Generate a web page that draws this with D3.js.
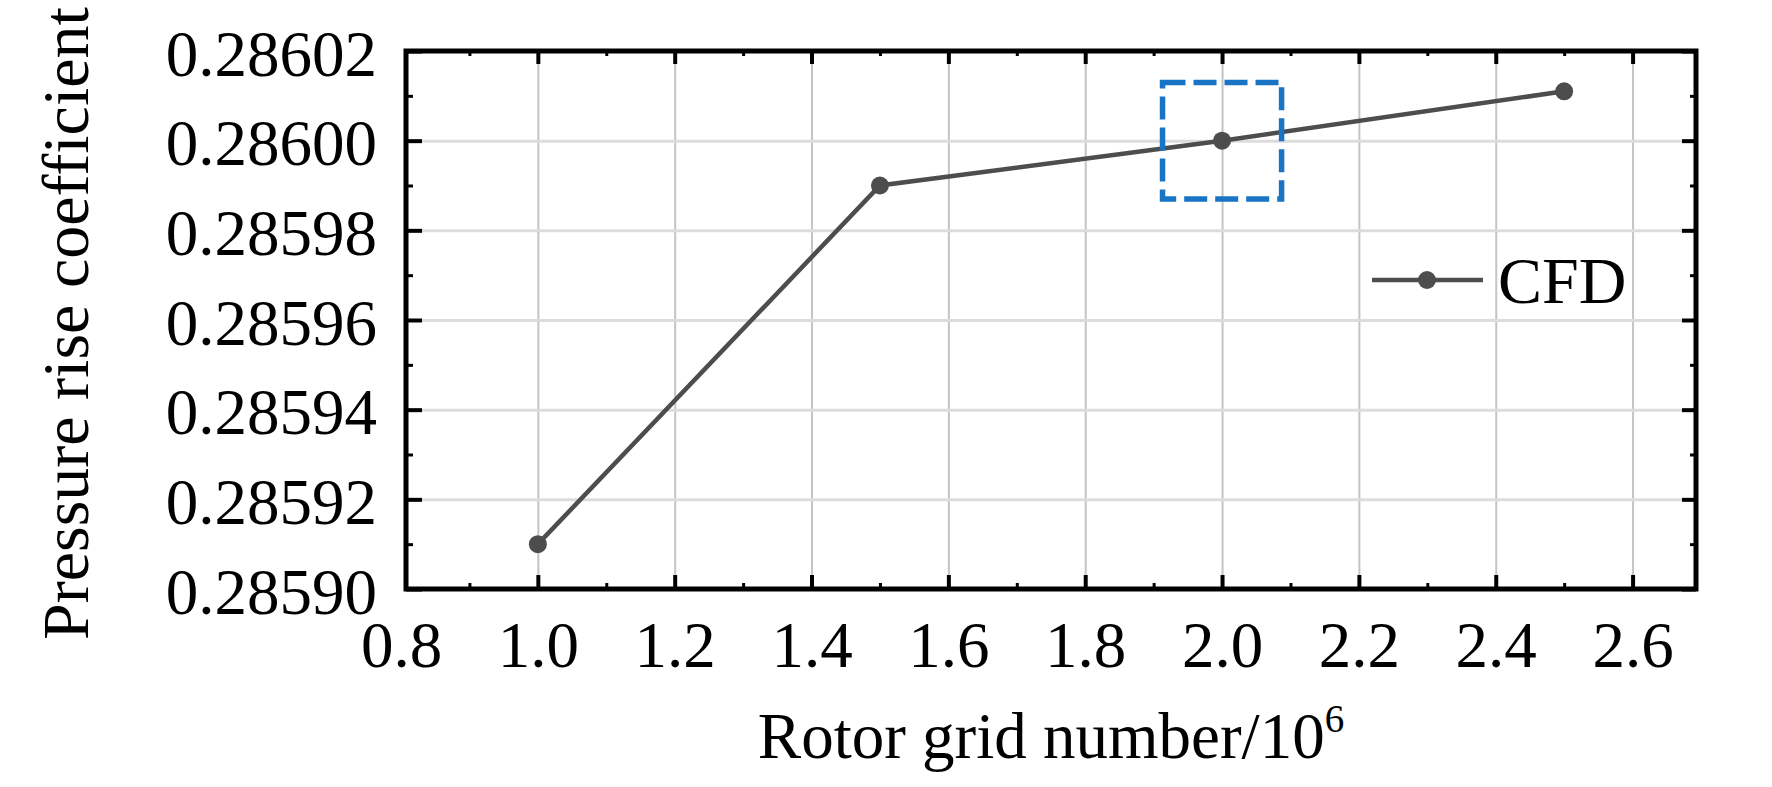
<!DOCTYPE html>
<html>
<head>
<meta charset="utf-8">
<script src="https://cdn.jsdelivr.net/npm/d3@7"></script>
<style>
  html, body { margin: 0; padding: 0; background: #fff; }
  svg { display: block; font-family: "Liberation Serif", "Times New Roman", serif; }
</style>
</head>
<body>
<svg id="chart" width="1772" height="787"></svg>
<script>
// ---- data ----
const gridNumbers = [1.0, 1.5, 2.0, 2.5];
const cfdValues = [0.28591, 0.28599, 0.28600, 0.286011];
const seriesName = "CFD";
const xTickValues = [0.8, 1.0, 1.2, 1.4, 1.6, 1.8, 2.0, 2.2, 2.4, 2.6];
const xMinorTicks = [0.9, 1.1, 1.3, 1.5, 1.7, 1.9, 2.1, 2.3, 2.5];
const yTickValues = [0.28590, 0.28592, 0.28594, 0.28596, 0.28598, 0.28600, 0.28602];
const yMinorTicks = [0.28591, 0.28593, 0.28595, 0.28597, 0.28599, 0.28601];
const highlightX = [1.913, 2.087];
const highlightY = [0.285987, 0.286013];
const xTitle = "Rotor grid number/10";
const xTitleSup = "6";
const yTitle = "Pressure rise coefficient";

// ---- layout ----
const frame = { left: 406, right: 1696, top: 51, bottom: 589 };
const svg = d3.select("#chart");
const x = d3.scaleLinear().domain([0.8, 2.7]).range([401, 1701]);
const y = d3.scaleLinear().domain([0.28590, 0.28602]).range([frame.bottom, frame.top]);
const FS = 65;
const lineColor = "#4d4d4d";

// ---- grid ----
const gv = svg.append("g").attr("transform", `translate(0,${frame.bottom})`)
  .call(d3.axisBottom(x).tickValues(xTickValues.filter(d => d > 0.85))
    .tickSize(-(frame.bottom - frame.top)).tickFormat(""));
gv.select(".domain").remove();
gv.selectAll("line").attr("stroke", "#c4c4c4").attr("stroke-width", 2);

const gh = svg.append("g").attr("transform", `translate(${frame.left},0)`)
  .call(d3.axisLeft(y).tickValues(yTickValues.slice(1, -1))
    .tickSize(-(frame.right - frame.left)).tickFormat(""));
gh.select(".domain").remove();
gh.selectAll("line").attr("stroke", "#dcdcdc").attr("stroke-width", 3);

// ---- axes ticks ----
function styleAxis(g, w) {
  g.select(".domain").remove();
  g.selectAll(".tick line").attr("stroke", "#000").attr("stroke-width", w);
}
// bottom
const xb = svg.append("g").attr("transform", `translate(0,${frame.bottom})`)
  .call(d3.axisBottom(x).tickValues(xTickValues).tickSize(-14).tickFormat(d3.format(".1f")));
styleAxis(xb, 4);
xb.selectAll(".tick").filter(d => d < 0.85).select("line").remove();
xb.selectAll("text").attr("y", 78).attr("dy", null)
  .attr("font-size", FS).attr("fill", "#000").attr("font-family", "Liberation Serif, serif");
const xbm = svg.append("g").attr("transform", `translate(0,${frame.bottom})`)
  .call(d3.axisBottom(x).tickValues(xMinorTicks).tickSize(-6).tickFormat(""));
styleAxis(xbm, 3);
// top
const xt = svg.append("g").attr("transform", `translate(0,${frame.top})`)
  .call(d3.axisTop(x).tickValues(xTickValues.filter(d => d > 0.85)).tickSize(-13).tickFormat(""));
styleAxis(xt, 4);
const xtm = svg.append("g").attr("transform", `translate(0,${frame.top})`)
  .call(d3.axisTop(x).tickValues(xMinorTicks).tickSize(-5).tickFormat(""));
styleAxis(xtm, 3);
// left
const yl = svg.append("g").attr("transform", `translate(${frame.left},0)`)
  .call(d3.axisLeft(y).tickValues(yTickValues).tickSize(-16).tickPadding(29).tickFormat(d3.format(".5f")));
styleAxis(yl, 4);
yl.selectAll("text").attr("dy", "0.37em")
  .attr("font-size", FS).attr("fill", "#000").attr("font-family", "Liberation Serif, serif");
const ylm = svg.append("g").attr("transform", `translate(${frame.left},0)`)
  .call(d3.axisLeft(y).tickValues(yMinorTicks).tickSize(-7).tickFormat(""));
styleAxis(ylm, 3);
// right
const yr = svg.append("g").attr("transform", `translate(${frame.right},0)`)
  .call(d3.axisRight(y).tickValues(yTickValues).tickSize(-14).tickFormat(""));
styleAxis(yr, 4);
const yrm = svg.append("g").attr("transform", `translate(${frame.right},0)`)
  .call(d3.axisRight(y).tickValues(yMinorTicks).tickSize(-6).tickFormat(""));
styleAxis(yrm, 3);

// ---- frame ----
svg.append("rect")
  .attr("x", frame.left).attr("y", frame.top)
  .attr("width", frame.right - frame.left).attr("height", frame.bottom - frame.top)
  .attr("fill", "none").attr("stroke", "#000").attr("stroke-width", 5);

// ---- data line ----
const pts = gridNumbers.map((g, i) => [g, cfdValues[i]]);
svg.append("path").datum(pts)
  .attr("d", d3.line().x(d => x(d[0])).y(d => y(d[1])))
  .attr("fill", "none").attr("stroke", lineColor).attr("stroke-width", 4.5);
svg.append("g").selectAll("circle").data(pts).join("circle")
  .attr("cx", d => x(d[0])).attr("cy", d => y(d[1])).attr("r", 9)
  .attr("fill", lineColor);

// ---- highlight box ----
svg.append("rect")
  .attr("x", x(highlightX[0])).attr("y", y(highlightY[1]))
  .attr("width", x(highlightX[1]) - x(highlightX[0]))
  .attr("height", y(highlightY[0]) - y(highlightY[1]))
  .attr("fill", "none").attr("stroke", "#1a74c6").attr("stroke-width", 5.5)
  .attr("stroke-dasharray", "23,8");

// ---- legend ----
const lg = svg.append("g");
lg.append("line").attr("x1", 1372).attr("x2", 1483).attr("y1", 280).attr("y2", 280)
  .attr("stroke", lineColor).attr("stroke-width", 4.5);
lg.append("circle").attr("cx", 1427).attr("cy", 280).attr("r", 9).attr("fill", lineColor);
lg.append("text").attr("x", 1498).attr("y", 303).attr("font-size", FS + 1).attr("fill", "#000")
  .text(seriesName);

// ---- titles ----
const xt2 = svg.append("text").attr("x", (frame.left + frame.right) / 2).attr("y", 758)
  .attr("text-anchor", "middle").attr("font-size", FS).attr("fill", "#000");
xt2.append("tspan").text(xTitle);
xt2.append("tspan").attr("font-size", FS * 0.6).attr("dy", -26).text(xTitleSup);

svg.append("text")
  .attr("transform", "translate(88,640) rotate(-90)")
  .attr("text-anchor", "start").attr("font-size", FS + 1).attr("fill", "#000")
  .text(yTitle);
</script>
</body>
</html>
